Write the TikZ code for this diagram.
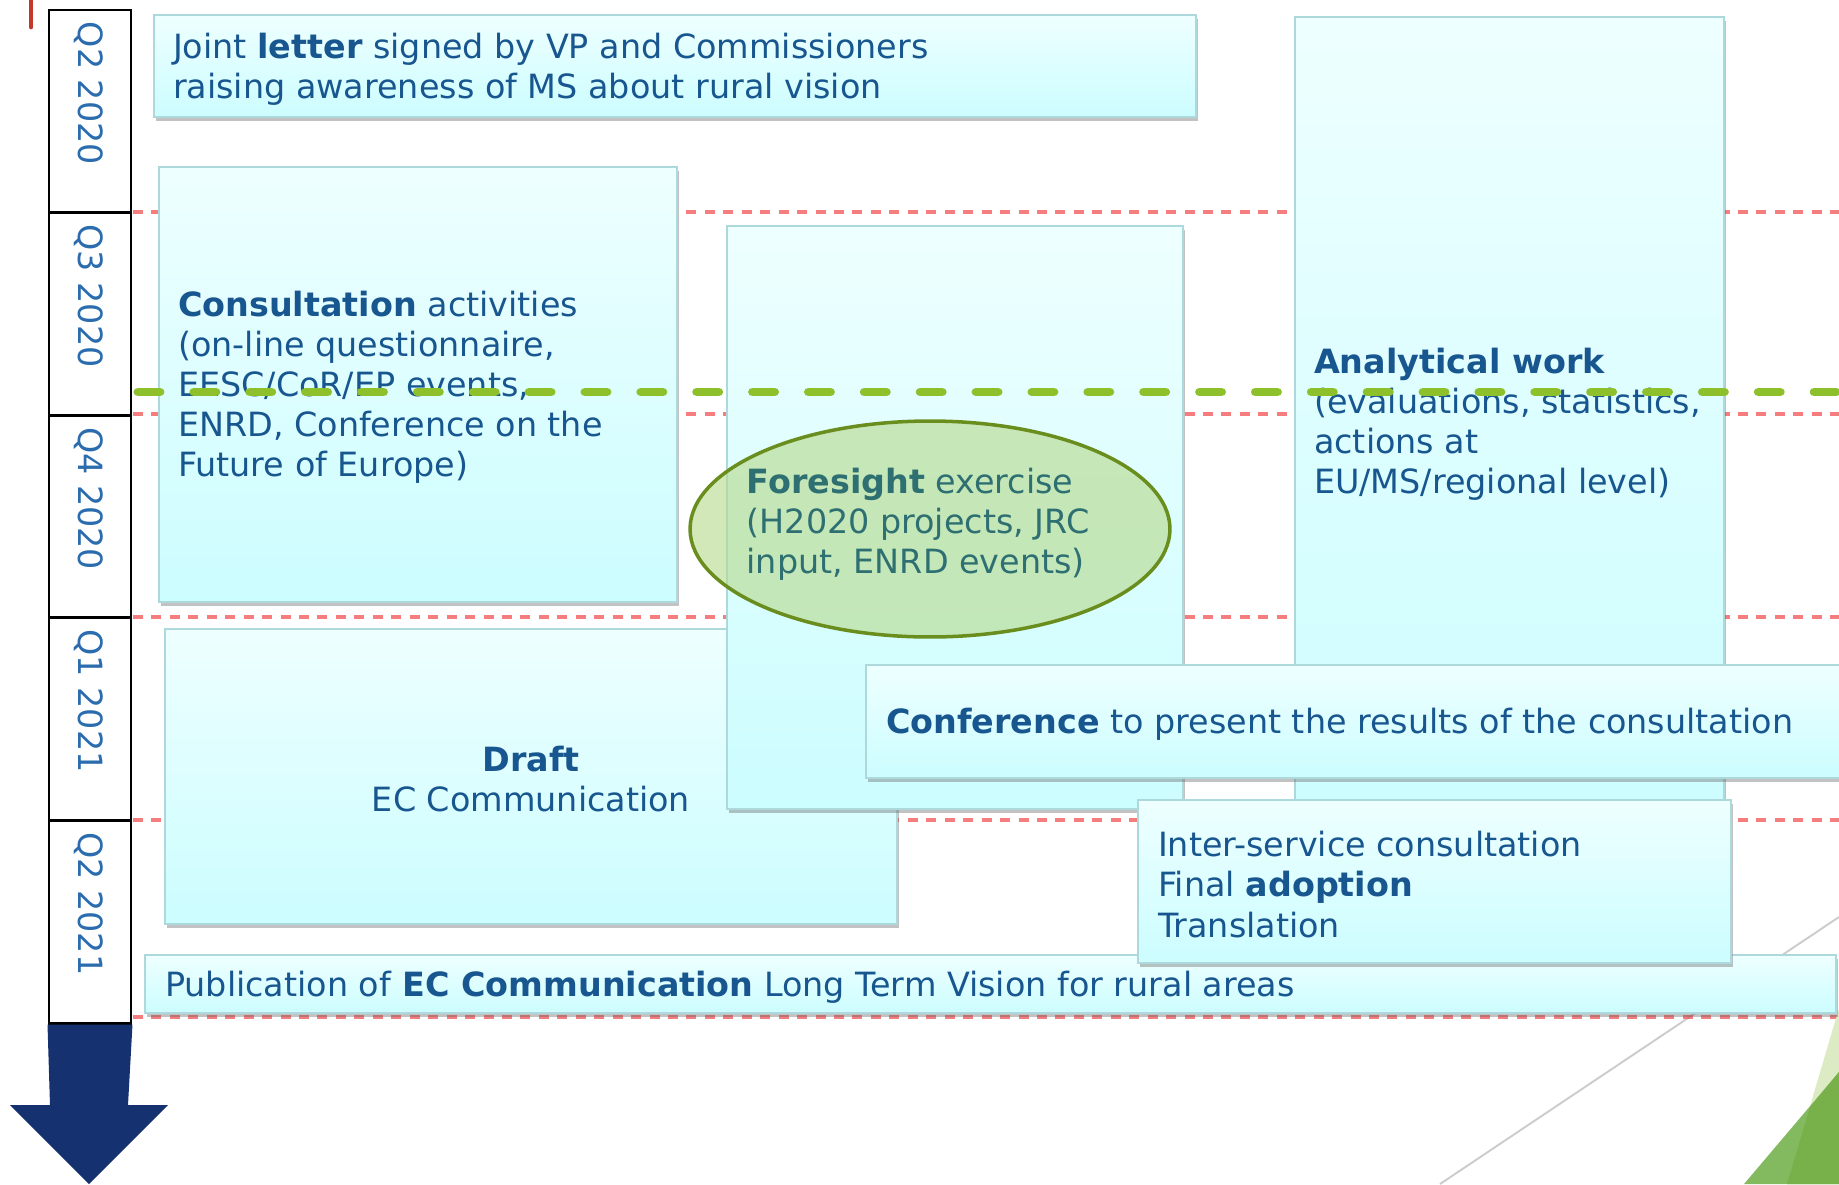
\documentclass[tikz,border=0pt]{standalone}
\usepackage{fontspec}
\setmainfont{DejaVu Sans}
\usetikzlibrary{shadows,fit,calc,shapes.geometric,positioning}

\definecolor{txtblue}{HTML}{18568F}
\definecolor{qblue}{HTML}{2B6CAE}
\definecolor{boxtop}{HTML}{EEFFFF}
\definecolor{boxbot}{HTML}{CCFDFF}
\definecolor{boxedge}{HTML}{ADD9DD}
\definecolor{dashred}{HTML}{F25C5C}
\definecolor{limegreen}{HTML}{8DC02A}
\definecolor{ovalfill}{HTML}{B5D98A}
\definecolor{ovaledge}{HTML}{6A8E1E}
\definecolor{ovaltxt}{HTML}{2E6F72}
\definecolor{navyblue}{HTML}{16316F}
\definecolor{tickred}{HTML}{C0392B}
\definecolor{lightleaf}{HTML}{DDEBC5}
\definecolor{midleaf}{HTML}{83BA60}
\definecolor{darkleaf}{HTML}{78B14A}

\tikzset{
	panel/.style={draw=boxedge, line width=1.4pt, top color=boxtop, bottom color=boxbot, inner sep=0pt,
		drop shadow={shadow xshift=1pt, shadow yshift=-2pt, opacity=.4, fill=black!60}},
	txt/.style={text=txtblue, align=left, inner sep=0pt, font=\fontsize{19}{22.8}\selectfont},
	qbox/.style={draw=black, line width=1.7pt, fill=white, inner sep=0pt},
	qlabel/.style={text=qblue, rotate=-90, anchor=west, inner sep=0pt, font=\fontsize{19}{22.8}\selectfont},
	reddash/.style={draw=dashred, line width=1.8pt, dash pattern=on 5.7pt off 4.8pt, opacity=.8},
	greendash/.style={draw=limegreen, line width=5.1pt, line cap=round, dash pattern=on 12.5pt off 19.3pt},
	oval/.style={ellipse, draw=ovaledge, line width=2pt, fill=ovalfill, fill opacity=.6, inner sep=0pt,
		minimum width=9.6cm, minimum height=4.32cm}
}

\begin{document}
\begin{tikzpicture}[x=0.02cm, y=-0.02cm]
	\useasboundingbox (0,0) rectangle (1839,1184);
	\clip (0,0) rectangle (1839,1184);

	% background
	\draw[black!20, line width=1.1pt] (1440,1184) -- (1839,917);
	\foreach \y in {212,414,617,820,1017}{
		\draw[reddash] (133,\y) -- (1839,\y);
	}
	\fill[lightleaf] (1839,1008) -- (1787,1184) -- (1839,1184) -- cycle;
	\fill[midleaf] (1744,1184) -- (1839,1072) -- (1839,1184) -- cycle;
	\fill[darkleaf] (1810,1107) -- (1787,1184) -- (1839,1184) -- (1839,1072) -- cycle;
	\draw[tickred, line width=2.8pt, line cap=round] (31,-5) -- (31,27);

	% quarters
	\foreach \i/\q in {0/Q2 2020,1/Q3 2020,2/Q4 2020,3/Q1 2021,4/Q2 2021}{
		\pgfmathsetmacro\yt{10+202.6*\i}
		\pgfmathsetmacro\yb{10+202.6*(\i+1)}
		\node[qbox, fit={(49,\yt) (131,\yb)}] (q\i) {};
		\node[qlabel] (ql\i) at ($(q\i.north)+(-1,13)$) {\q};
	}
	\fill[navyblue] (q4.south west) -- (q4.south east) -- (128,1105) -- (168,1105) -- (89,1184)
		-- (10,1105) -- (50,1105) -- cycle;

	% panels
	\node[panel, fit={(154,15) (1196,117)}] (letter) {};
	\node[txt, anchor=west] (lettertxt) at ($(letter.west)+(20,3)$)
		{Joint \textbf{letter} signed by VP and Commissioners\\raising awareness of MS about rural vision};

	\node[panel, fit={(159,167) (677,602)}] (consult) {};
	\node[txt, anchor=west] (consulttxt) at ($(consult.west)+(20,3)$)
		{\textbf{Consultation} activities\\(on-line questionnaire,\\EESC/CoR/EP events,\\ENRD, Conference on the\\Future of Europe)};

	\node[panel, fit={(165,629) (897,924)}] (draft) {};
	\node[txt, align=center] (drafttxt) at ($(draft.center)+(0,3)$) {\textbf{Draft}\\EC Communication};

	\node[panel, fit={(727,226) (1183,809)}] (foresightbox) {};
	\node[oval] (foresight) at (930,529) {};
	\node[txt, text=ovaltxt, anchor=west] (foresighttxt) at ($(foresight.west)+(58,-5)$)
		{\textbf{Foresight} exercise\\(H2020 projects, JRC\\input, ENRD events)};

	\node[panel, fit={(1295,17) (1724,826)}] (analysis) {};
	\node[txt, anchor=west] (analysistxt) at ($(analysis.west)+(20,3)$)
		{\textbf{Analytical work}\\(evaluations, statistics,\\actions at\\EU/MS/regional level)};

	\node[panel, fit={(866,665) (1880,778)}] (conference) {};
	\node[txt, anchor=west] (conferencetxt) at ($(conference.west)+(21,3)$)
		{\textbf{Conference} to present the results of the consultation};

	\node[panel, fit={(145,955) (1836,1013)}] (publication) {};
	\node[txt, anchor=west] (publicationtxt) at ($(publication.west)+(21,3)$)
		{Publication of \textbf{EC Communication} Long Term Vision for rural areas};

	\node[panel, fit={(1138,800) (1731,963)}] (adoption) {};
	\node[txt, anchor=west] (adoptiontxt) at ($(adoption.west)+(21,3)$)
		{Inter-service consultation\\Final \textbf{adoption}\\Translation};

	\draw[greendash] (138,392) -- (1839,392);%over everything
\end{tikzpicture}
\end{document}
